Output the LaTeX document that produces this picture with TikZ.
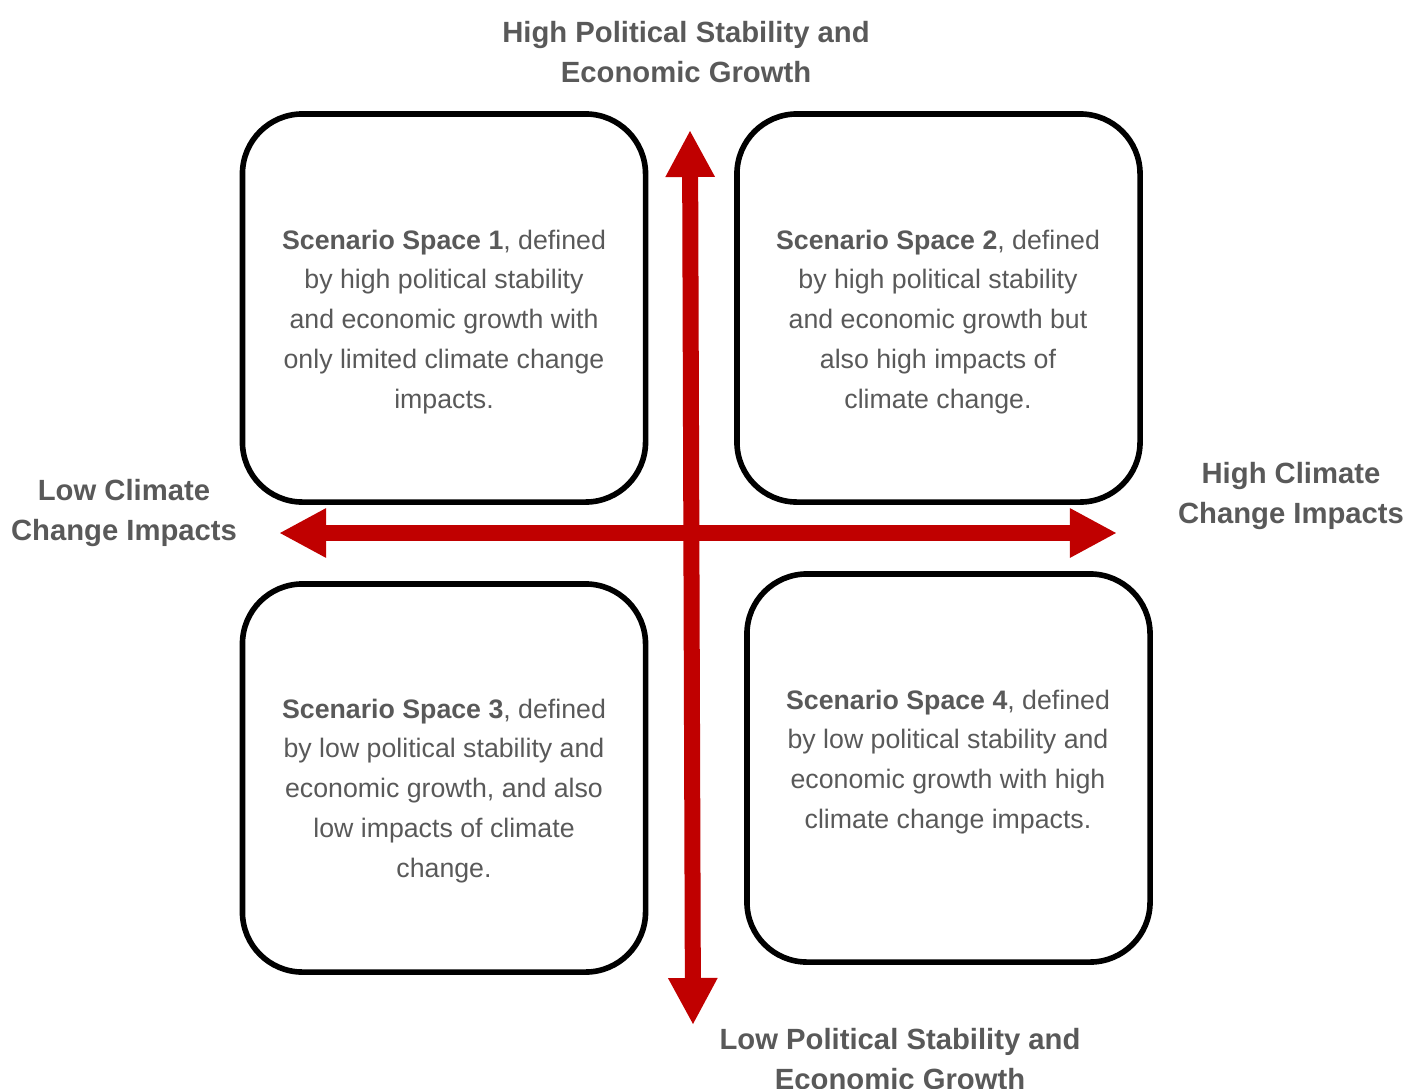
\documentclass[tikz,border=0pt]{standalone}
\usepackage{fontspec}
\setmainfont{Liberation Sans}
\usetikzlibrary{arrows.meta}
\definecolor{axisred}{HTML}{C00000}
\definecolor{txtgray}{HTML}{595959}
\tikzset{
  space_box/.style = {draw=black, line width=0.14cm, rounded corners=1.5cm,
    minimum width=10.075cm, minimum height=9.7cm, inner sep=0pt},% cadre du scenario
  space_txt/.style = {align=center, txtgray, inner sep=0pt,
    font=\fontsize{19}{28.4}\selectfont},% texte du scenario
  axis_lbl/.style = {align=center, txtgray, inner sep=0pt,
    font=\fontsize{20.8}{28.4}\selectfont\bfseries},% etiquette d'axe
  axis_arr/.style = {axisred, line width=0.4cm,
    {Triangle[length=1.175cm, width=1.15cm]}-{Triangle[length=1.175cm, width=1.15cm]}}% fleche rouge
}
\begin{document}
\begin{tikzpicture}[x=0.025cm, y=-0.025cm]
\useasboundingbox (0,0) rectangle (1408,1088);
% les quatre cadres
\node [space_box] (s1) at (444,308) {};
\node [space_box] (s2) at (938.5,308) {};
\node [space_box] (s3) at (444,778) {};
\node [space_box] (s4) at (948.5,768) {};
% les axes
\coordinate (top) at (690,130);
\coordinate (bot) at (693,1025);
\coordinate (lft) at (279,533);
\coordinate (rgt) at (1117,533);
\draw [axis_arr] (bot) -- (top);
\draw [axis_arr] (lft) -- (rgt);
% textes des cadres
\node [space_txt] (t1) at (444,322) {\textbf{Scenario Space 1}, defined\\
  by high political stability\\ and economic growth with\\
  only limited climate change\\ impacts.};
\node [space_txt] (t2) at (938,322) {\textbf{Scenario Space 2}, defined\\
  by high political stability\\ and economic growth but\\
  also high impacts of\\ climate change.};
\node [space_txt] (t3) at (444,791) {\textbf{Scenario Space 3}, defined\\
  by low political stability and\\ economic growth, and also\\
  low impacts of climate\\ change.};
\node [space_txt] (t4) at (948,762) {\textbf{Scenario Space 4}, defined\\
  by low political stability and\\ economic growth with high\\
  climate change impacts.};
% etiquettes des axes
\node [axis_lbl] (hi_pol) at (686,52) {High Political Stability and\\ Economic Growth};
\node [axis_lbl] (lo_pol) at (900,1059) {Low Political Stability and\\ Economic Growth};
\node [axis_lbl] (lo_cli) at (124,513) {Low Climate\\ Change Impacts};
\node [axis_lbl] (hi_cli) at (1291,496) {High Climate\\ Change Impacts};
\end{tikzpicture}
\end{document}
